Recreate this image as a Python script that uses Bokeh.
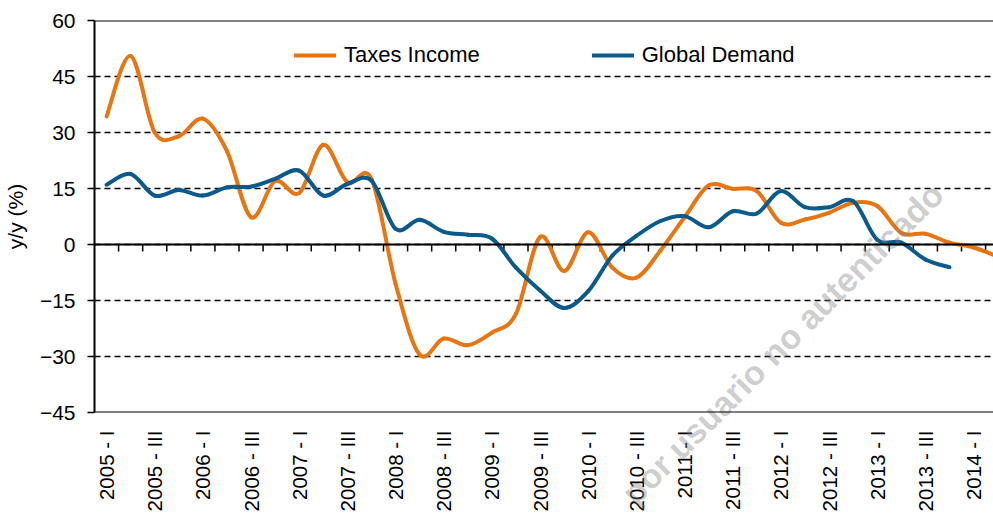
import math
from bokeh.plotting import figure
from bokeh.models import Range1d, FixedTicker, Span, Legend, LegendItem, Label, ColumnDataSource
from bokeh.embed import file_html
from bokeh.resources import INLINE

# ---- data (quarterly, y/y %) ----
years = list(range(2005, 2015))
roman = ["I", "II", "III", "IV"]
quarters = [f"{y} - {q}" for y in years for q in roman][:38]

taxes_income = [34.3, 50.5, 30.0, 29.0, 33.7, 25.0, 7.3, 17.0, 13.8, 26.7,
                16.7, 17.6, -10.5, -29.5, -25.2, -27.0, -23.6, -18.6, 2.0, -7.1,
                3.3, -6.2, -8.9, -1.6, 7.3, 15.8, 14.9, 14.3, 5.8, 6.7,
                8.5, 11.2, 10.3, 3.1, 2.9, 0.5, -0.8, -3.2]

global_demand = [16.0, 18.9, 13.1, 14.6, 13.1, 15.3, 15.5, 17.6, 19.8, 13.1,
                 16.2, 17.1, 4.2, 6.6, 3.4, 2.6, 1.6, -6.2, -12.3, -17.0,
                 -12.5, -3.0, 2.3, 6.3, 7.6, 4.6, 8.9, 8.3, 14.3, 10.0,
                 10.0, 11.6, 1.3, 0.5, -4.0, -6.1]

y_ticks = [-45, -30, -15, 0, 15, 30, 45, 60]
series_names = ["Taxes Income", "Global Demand"]
colors = ["#E8750F", "#0A5A8B"]

FONT = "Liberation Sans"


def smooth_source(vals):
    """Bezier segments (Excel-like smoothed line) through the data points."""
    n = len(vals)
    xs = list(range(n))
    d = dict(x0=[], y0=[], x1=[], y1=[], cx0=[], cy0=[], cx1=[], cy1=[])
    for i in range(n - 1):
        a = i - 1 if i > 0 else i
        b = i + 2 if i + 2 < n else i + 1
        d["x0"].append(xs[i]); d["y0"].append(vals[i])
        d["x1"].append(xs[i + 1]); d["y1"].append(vals[i + 1])
        d["cx0"].append(xs[i] + (xs[i + 1] - xs[a]) / 6.0)
        d["cy0"].append(vals[i] + (vals[i + 1] - vals[a]) / 6.0)
        d["cx1"].append(xs[i + 1] - (xs[b] - xs[i]) / 6.0)
        d["cy1"].append(vals[i + 1] - (vals[b] - vals[i]) / 6.0)
    return ColumnDataSource(d)


p = figure(frame_width=900, frame_height=392,
           x_range=Range1d(-0.5, 36.87), y_range=Range1d(-45, 60),
           output_backend="svg", toolbar_location=None,
           min_border_left=85, min_border_right=0, min_border_top=20, min_border_bottom=95)
p.outline_line_color = None
p.background_fill_color = "white"
p.border_fill_color = "white"

# grid
p.xgrid.visible = False
p.ygrid.ticker = FixedTicker(ticks=y_ticks)
p.ygrid.grid_line_color = "black"
p.ygrid.grid_line_dash = "6 4"
p.ygrid.grid_line_width = 1.4

# y axis
p.yaxis.ticker = FixedTicker(ticks=y_ticks)
p.yaxis.axis_label = "y/y (%)"
p.yaxis.axis_label_text_font = FONT
p.yaxis.axis_label_text_font_size = "21px"
p.yaxis.axis_label_text_font_style = "normal"
p.yaxis.axis_label_text_color = "black"
p.yaxis.axis_label_standoff = 10
p.yaxis.major_label_text_font = FONT
p.yaxis.major_label_text_font_size = "21px"
p.yaxis.major_label_text_color = "black"
p.yaxis.major_label_standoff = 12
p.yaxis.axis_line_color = "black"
p.yaxis.axis_line_width = 2
p.yaxis.major_tick_line_color = "black"
p.yaxis.major_tick_line_width = 1.5
p.yaxis.major_tick_out = 7
p.yaxis.major_tick_in = 0
p.yaxis.minor_tick_line_color = None

# x axis (labels only, at bottom)
label_idx = [i for i in range(0, len(quarters), 2) if i <= 36]
p.xaxis.ticker = FixedTicker(ticks=label_idx)
p.xaxis.major_label_overrides = {i: quarters[i] for i in label_idx}
p.xaxis.major_label_orientation = math.pi / 2
p.xaxis.major_label_text_font = FONT
p.xaxis.major_label_text_font_size = "20.5px"
p.xaxis.major_label_text_color = "black"
p.xaxis.major_label_standoff = 12
p.xaxis.axis_line_color = None
p.xaxis.major_tick_line_color = None
p.xaxis.minor_tick_line_color = None

# frame lines: zero line, top and bottom
p.add_layout(Span(location=0, dimension="width", line_color="black", line_width=2))
p.add_layout(Span(location=y_ticks[-1], dimension="width", line_color="black", line_width=2))
p.add_layout(Span(location=y_ticks[0], dimension="width", line_color="black", line_width=2))

# tick marks on the zero line at category boundaries
bounds = [i + 0.5 for i in range(len(quarters) - 1)]
p.ray(x=bounds, y=[0] * len(bounds), length=7, length_units="screen",
      angle=-math.pi / 2, line_color="black", line_width=1.5)

# series
renderers = []
for vals, col in zip([taxes_income, global_demand], colors):
    r = p.bezier(x0="x0", y0="y0", x1="x1", y1="y1", cx0="cx0", cy0="cy0", cx1="cx1", cy1="cy1",
                 source=smooth_source(vals), line_color=col, line_width=4, line_cap="round")
    renderers.append(r)

items = [LegendItem(label=name, renderers=[r]) for name, r in zip(series_names, renderers)]
legend = Legend(items=items, orientation="horizontal", location=(200, 344),
                glyph_width=42, glyph_height=20, label_standoff=8, spacing=112,
                padding=0, margin=0, border_line_color=None, background_fill_alpha=0,
                label_text_font=FONT, label_text_font_size="22px", label_text_color="black")
p.add_layout(legend)

# watermark
p.add_layout(Label(x=34.5, y=15.0, text="por usuario no autenticado", angle=45, angle_units="deg",
                   text_align="right", text_baseline="alphabetic", text_font=FONT,
                   text_font_size="34px", text_font_style="bold", text_color="#808080",
                   text_alpha=0.4), "below")

open("out.html", "w").write(file_html(p, INLINE))
